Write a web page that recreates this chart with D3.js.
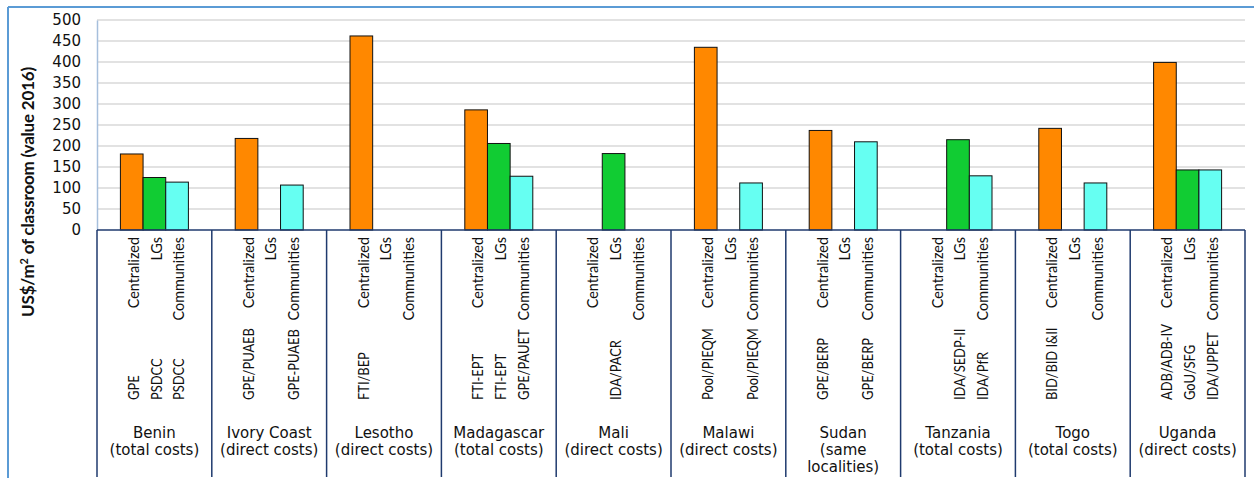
<!DOCTYPE html>
<html>
<head>
<meta charset="utf-8">
<script src="https://cdn.jsdelivr.net/npm/d3@7"></script>
<style>
  body { margin: 0; background: #fff; }
  svg { display: block; }
</style>
</head>
<body>
<div id="chart"></div>
<script>
// data
const countries = ["Benin", "Ivory Coast", "Lesotho", "Madagascar", "Mali", "Malawi", "Sudan", "Tanzania", "Togo", "Uganda"];
const countryNotes = [["(total costs)"], ["(direct costs)"], ["(direct costs)"], ["(total costs)"], ["(direct costs)"],
    ["(direct costs)"], ["(same", "localities)"], ["(total costs)"], ["(total costs)"], ["(direct costs)"]];
const series = ["Centralized", "LGs", "Communities"];
const centralized = [181, 218, 462, 286, null, 435, 237, null, 242, 399];
const lgs = [125, null, null, 206, 182, null, null, 215, null, 143];
const communities = [114, 107, null, 128, null, 112, 210, 129, 112, 143];
const funderCentralized = ["GPE", "GPE/PUAEB", "FTI/BEP", "FTI-EPT", "", "Pool/PIEQM", "GPE/BERP", "", "BID/BID I&II", "ADB/ADB-IV"];
const funderLGs = ["PSDCC", "", "", "FTI-EPT", "IDA/PACR", "", "", "IDA/SEDP-II", "", "GoU/SFG"];
const funderCommunities = ["PSDCC", "GPE-PUAEB", "", "GPE/PAUET", "", "Pool/PIEQM", "GPE/BERP", "IDA/PfR", "", "IDA/UPPET"];
const yTicks = [0, 50, 100, 150, 200, 250, 300, 350, 400, 450, 500];

const W = 1254, H = 478;
const colors = {"Centralized": "#ff8800", "LGs": "#11cc33", "Communities": "#66fff2"};
const values = {"Centralized": centralized, "LGs": lgs, "Communities": communities};
const funders = {"Centralized": funderCentralized, "LGs": funderLGs, "Communities": funderCommunities};

const svg = d3.select("#chart")
    .append("svg")
    .attr("width", W)
    .attr("height", H)

// outer frame (only top and left visible)
svg.append("line").attr("x1", 8).attr("x2", W).attr("y1", 7).attr("y2", 7)
    .attr("stroke", "#5b9bd5").attr("stroke-width", 2)
svg.append("line").attr("x1", 8).attr("x2", 8).attr("y1", 7).attr("y2", H)
    .attr("stroke", "#5b9bd5").attr("stroke-width", 2)

const plotLeft = 97, plotRight = 1245, plotTop = 20, base = 230;

const x0 = d3.scaleBand().domain(countries).range([plotLeft, plotRight]).padding(0)
const bw = x0.bandwidth()
const x1 = d3.scaleBand().domain(series).range([bw / 2 - 34, bw / 2 + 34]).padding(0)
const y = d3.scaleLinear().domain([0, 500]).range([base, plotTop])

// gridlines
svg.append("g")
    .selectAll("line")
    .data(yTicks.filter(d => d > 0))
    .enter().append("line")
    .attr("x1", plotLeft).attr("x2", plotRight)
    .attr("y1", d => y(d)).attr("y2", d => y(d))
    .attr("stroke", "#d9d9d9").attr("stroke-width", 1.5)

// y axis
const yAxis = svg.append("g")
    .attr("transform", `translate(${plotLeft},0)`)
    .call(d3.axisLeft(y).tickValues(yTicks).tickSize(0).tickPadding(16))
yAxis.select(".domain").attr("stroke", "#a6bfdc").attr("stroke-width", 1.5)
yAxis.selectAll("text")
    .style("font", "15px 'DejaVu Sans'")
    .attr("fill", "#111")

// y title
const yt = svg.append("text")
    .attr("transform", "translate(28,192) rotate(-90)")
    .attr("dy", "0.35em")
    .attr("text-anchor", "middle")
    .style("font", "bold 17px Lato")
    .style("letter-spacing", "-0.2px")
    .attr("fill", "#111")
yt.append("tspan").text("US$/m")
yt.append("tspan").text("2").attr("dy", -6).style("font-size", "11px")
yt.append("tspan").text(" of classroom (value 2016)").attr("dy", 6)

// bars
const groups = svg.append("g")
    .selectAll("g")
    .data(countries)
    .enter().append("g")
    .attr("transform", d => `translate(${x0(d)},0)`)

groups.selectAll("rect")
    .data((c, i) => series.map(s => ({s: s, v: values[s][i]})).filter(d => d.v != null))
    .enter().append("rect")
    .attr("x", d => x1(d.s))
    .attr("y", d => y(d.v))
    .attr("width", x1.bandwidth())
    .attr("height", d => base - y(d.v))
    .attr("fill", d => colors[d.s])
    .attr("stroke", "#111")
    .attr("stroke-width", 1)

// category table below the axis
const navy = "#1f3a6e"
svg.append("line").attr("x1", plotLeft).attr("x2", plotRight).attr("y1", base).attr("y2", base)
    .attr("stroke", navy).attr("stroke-width", 1.5)
svg.append("g")
    .selectAll("line")
    .data(countries.map(c => x0(c)).concat([plotRight]))
    .enter().append("line")
    .attr("x1", d => d).attr("x2", d => d)
    .attr("y1", base).attr("y2", H - 1)
    .attr("stroke", navy).attr("stroke-width", 1.5)

// rotated series names and funders (squeezed a little, the source font is narrow)
series.forEach(function (s) {
    groups.append("text")
        .attr("transform", d => `translate(${x1(s) + x1.bandwidth() / 2 + 2},237) rotate(-90) scale(0.96,1)`)
        .attr("dy", "0.35em")
        .attr("text-anchor", "end")
        .style("font", "15px Lato")
        .attr("fill", "#111")
        .text(s)
    groups.append("text")
        .attr("transform", d => `translate(${x1(s) + x1.bandwidth() / 2 + 2},400) rotate(-90) scale(0.86,1)`)
        .attr("dy", "0.35em")
        .attr("text-anchor", "start")
        .style("font", "15px Lato")
        .attr("fill", "#111")
        .text((d, i) => funders[s][i])
})

// country names
groups.each(function (c, i) {
    const lines = [c].concat(countryNotes[i])
    d3.select(this).selectAll("text.country")
        .data(lines)
        .enter().append("text")
        .attr("class", "country")
        .attr("x", bw / 2)
        .attr("y", (d, k) => 438 + k * 17)
        .attr("text-anchor", "middle")
        .style("font", "15px 'DejaVu Sans'")
        .attr("fill", "#111")
        .text(d => d)
})
</script>
</body>
</html>
